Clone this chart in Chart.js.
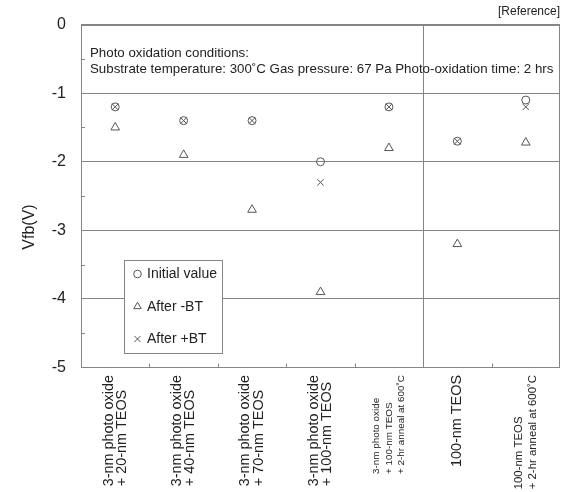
<!DOCTYPE html>
<html><head><meta charset="utf-8">
<script src="https://cdn.jsdelivr.net/npm/chart.js@4/dist/chart.umd.min.js"></script>
<style>html,body{margin:0;padding:0;background:#fff;}canvas{display:block;}</style>
</head><body>
<canvas id="c" width="567" height="492"></canvas>
<script>
// ---- data ----
const categories = [
  ['3-nm photo oxide', '+ 20-nm TEOS'],
  ['3-nm photo oxide', '+ 40-nm TEOS'],
  ['3-nm photo oxide', '+ 70-nm TEOS'],
  ['3-nm photo oxide', '+ 100-nm TEOS'],
  ['3-nm photo oxide', '+ 100-nm TEOS', '+ 2-hr anneal at 600˚C'],
  ['100-nm TEOS'],
  ['100-nm TEOS', '+ 2-hr anneal at 600˚C']
];
const initialValue = [-1.2, -1.4, -1.4, -2.0, -1.2, -1.7, -1.1];
const afterMinusBT = [-1.5, -1.9, -2.7, -3.9, -1.8, -3.2, -1.72];
const afterPlusBT  = [-1.2, -1.4, -1.4, -2.3, -1.2, -1.7, -1.2];
const yTickValues = [0, -1, -2, -3, -4, -5];
const yTickLabels = ['0', '-1', '-2', '-3', '-4', '-5'];
const seriesNames = ['Initial value', 'After -BT', 'After +BT'];
const noteLines = ['Photo oxidation conditions:',
  'Substrate temperature: 300˚C Gas pressure: 67 Pa Photo-oxidation time: 2 hrs'];
const cornerLabel = '[Reference]';
const yAxisTitle = 'Vfb(V)';

// ---- styles ----
const FONT = "'Liberation Sans', Arial, Helvetica, sans-serif";
const TEXT = '#222';
const LINE = '#858585';
const MARK = '#555';
const catFontSizes = [14.4, 14.4, 14.4, 14.4, 9.9, 14.4, 11.4];
const catLineGap = [13.3, 13.3, 13.3, 13.3, 12.7, 13.3, 13.3];
const pointStyles = ['circle', 'triangle', 'crossRot'];
const pointRadii = [4, 5, 4.5];

const decor = {
  id: 'decor',
  beforeDatasetsDraw(chart) {
    const ctx = chart.ctx, a = chart.chartArea;
    const xs = chart.scales.x, ys = chart.scales.y;
    ctx.save();
    ctx.strokeStyle = LINE; ctx.lineWidth = 1;
    // border
    ctx.strokeRect(Math.round(a.left) + 0.5, Math.round(a.top) + 0.5,
      Math.round(a.right - a.left) - 1, Math.round(a.bottom - a.top) - 1);
    // separator between category 5 and 6
    const sx = Math.round((xs.getPixelForValue(4) + xs.getPixelForValue(5)) / 2) + 0.5;
    ctx.beginPath(); ctx.moveTo(sx, a.top); ctx.lineTo(sx, a.bottom); ctx.stroke();
    // minor y ticks
    ctx.beginPath();
    for (let v = -0.5; v > -5; v -= 1) {
      const y = Math.round(ys.getPixelForValue(v)) + 0.5;
      ctx.moveTo(a.left, y); ctx.lineTo(a.left + 4, y);
    }
    // x boundary ticks
    for (let i = 0; i < categories.length - 1; i++) {
      const x = Math.round((xs.getPixelForValue(i) + xs.getPixelForValue(i + 1)) / 2) + 0.5;
      ctx.moveTo(x, a.bottom); ctx.lineTo(x, a.bottom - 4);
    }
    ctx.stroke();
    ctx.restore();
  },
  afterDraw(chart) {
    const ctx = chart.ctx;
    const xs = chart.scales.x;
    ctx.save();
    ctx.fillStyle = TEXT;
    // corner label
    ctx.font = '12px ' + FONT;
    ctx.textAlign = 'right'; ctx.textBaseline = 'middle';
    ctx.fillText(cornerLabel, 560, 12);
    // notes
    ctx.font = '13.3px ' + FONT;
    ctx.textAlign = 'left';
    ctx.fillText(noteLines[0], 90, 53);
    ctx.fillText(noteLines[1], 90, 69);
    // y title
    ctx.save();
    ctx.font = '16px ' + FONT;
    ctx.translate(30, 227); ctx.rotate(-Math.PI / 2);
    ctx.textAlign = 'center'; ctx.textBaseline = 'middle';
    ctx.fillText(yAxisTitle, 0, 0);
    ctx.restore();
    // x labels
    const top = 375;
    categories.forEach((lines, i) => {
      const fs = catFontSizes[i], gap = catLineGap[i];
      ctx.font = fs + 'px ' + FONT;
      const maxW = Math.max(...lines.map(l => ctx.measureText(l).width));
      const cx = xs.getPixelForValue(i);
      lines.forEach((l, j) => {
        const x = cx + (j - (lines.length - 1) / 2) * gap;
        ctx.save();
        ctx.translate(x, top + maxW); ctx.rotate(-Math.PI / 2);
        ctx.textAlign = 'left'; ctx.textBaseline = 'middle';
        ctx.fillText(l, 0, 0);
        ctx.restore();
      });
    });
    // legend
    ctx.fillStyle = '#fff';
    ctx.fillRect(124.5, 260.5, 98, 93);
    ctx.strokeStyle = LINE; ctx.lineWidth = 1;
    ctx.strokeRect(124.5, 260.5, 98, 93);
    const rows = [274, 306.5, 339];
    seriesNames.forEach((name, k) => {
      ctx.strokeStyle = MARK; ctx.fillStyle = 'rgba(0,0,0,0)'; ctx.lineWidth = 1;
      Chart.helpers.drawPoint(ctx, {pointStyle: pointStyles[k], radius: k === 0 ? 3.8 : 4.3, rotation: 0, borderWidth: 1}, 137.5, rows[k]);
      ctx.fillStyle = TEXT;
      ctx.font = '14px ' + FONT;
      ctx.textAlign = 'left'; ctx.textBaseline = 'middle';
      ctx.fillText(name, 147, rows[k] + 0.5);
    });
    ctx.restore();
  }
};

const series = [initialValue, afterMinusBT, afterPlusBT];
new Chart(document.getElementById('c'), {
  type: 'line',
  data: {
    labels: categories.map(c => c.join(' ')),
    datasets: series.map((d, k) => ({
      label: seriesNames[k],
      data: d,
      showLine: false,
      pointStyle: pointStyles[k],
      pointRadius: pointRadii[k],
      pointBorderWidth: 1,
      borderColor: MARK,
      backgroundColor: 'rgba(0,0,0,0)',
      pointBackgroundColor: 'rgba(0,0,0,0)'
    }))
  },
  options: {
    responsive: false,
    animation: false,
    devicePixelRatio: 1,
    layout: {padding: {left: 0, right: 7, top: 24.5, bottom: 0}},
    plugins: {legend: {display: false}, tooltip: {enabled: false}},
    scales: {
      x: {
        offset: true,
        grid: {display: false},
        border: {display: false},
        ticks: {display: false},
        afterFit(s) { s.height = 124.5; }
      },
      y: {
        min: -5, max: 0,
        afterBuildTicks(s) { s.ticks = yTickValues.map(v => ({value: v})); },
        ticks: {
          font: {size: 16, family: FONT},
          color: TEXT,
          padding: 15,
          callback: (v) => yTickLabels[yTickValues.indexOf(v)]
        },
        grid: {color: LINE, lineWidth: 1, drawTicks: false},
        border: {display: false},
        afterFit(s) { s.width = 81; }
      }
    }
  },
  plugins: [decor]
});
</script>
</body></html>
